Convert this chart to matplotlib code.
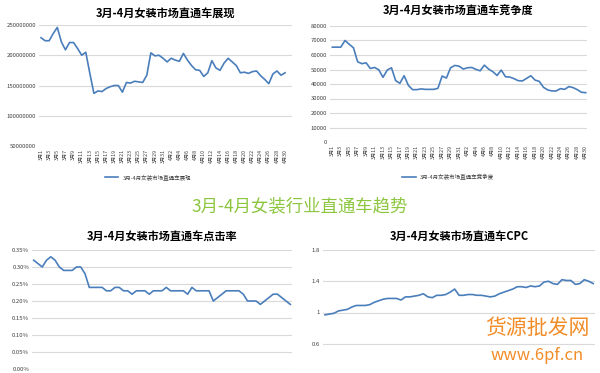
import matplotlib
matplotlib.use('Agg')
import matplotlib.pyplot as plt
from matplotlib.ticker import FuncFormatter

plt.rcParams['font.family'] = ['Noto Sans CJK SC', 'DejaVu Sans']

# category labels: 3月1 .. 4月30
dates = [f'3月{d}' for d in range(1, 32)] + [f'4月{d}' for d in range(1, 31)]

impressions = [229, 224, 224, 236, 246, 222, 209, 221, 221, 211,
               200, 205, 170, 137, 141, 140, 145, 148, 150, 150,
               139, 155, 154, 157, 156, 155, 167, 204, 199, 200,
               195, 189, 195, 192, 190, 203, 192, 183, 176, 175,
               165, 171, 191, 179, 175, 187, 195, 189, 183, 171,
               172, 170, 173, 174, 166, 160, 153, 169, 174, 167, 171]
impressions = [v * 1000000 for v in impressions]

competition = [65400, 65400, 65400, 70000, 67400, 65000, 55300, 54000, 54600, 50700,
               51400, 49800, 44600, 49600, 51200, 42300, 40500, 45700, 39100, 36100,
               36100, 36600, 36300, 36300, 36300, 37000, 45500, 44100, 51200, 52800,
               52300, 50300, 51200, 51400, 50100, 49100, 53000, 50300, 48500, 45900,
               49600, 45000, 44800, 43700, 42300, 42100, 43900, 45700, 42700, 41800,
               37700, 35900, 35200, 35200, 36800, 36300, 38200, 37500, 36100, 34300, 34000]

ctr = [0.32, 0.31, 0.30, 0.32, 0.33, 0.32, 0.30, 0.29, 0.29, 0.29,
       0.30, 0.30, 0.28, 0.24, 0.24, 0.24, 0.24, 0.23, 0.23, 0.24,
       0.24, 0.23, 0.23, 0.22, 0.23, 0.23, 0.23, 0.22, 0.23, 0.23,
       0.23, 0.24, 0.23, 0.23, 0.23, 0.23, 0.22, 0.24, 0.23, 0.23,
       0.23, 0.23, 0.20, 0.21, 0.22, 0.23, 0.23, 0.23, 0.23, 0.22,
       0.20, 0.20, 0.20, 0.19, 0.20, 0.21, 0.22, 0.22, 0.21, 0.20, 0.19]

cpc = [0.97, 0.98, 0.99, 1.02, 1.03, 1.04, 1.07, 1.09, 1.09, 1.09,
       1.10, 1.13, 1.15, 1.17, 1.18, 1.18, 1.18, 1.16, 1.20, 1.20,
       1.21, 1.22, 1.24, 1.20, 1.19, 1.22, 1.22, 1.23, 1.26, 1.30,
       1.22, 1.22, 1.23, 1.23, 1.22, 1.22, 1.21, 1.20, 1.21, 1.24,
       1.26, 1.28, 1.30, 1.33, 1.33, 1.32, 1.34, 1.33, 1.34, 1.39,
       1.40, 1.37, 1.36, 1.42, 1.41, 1.41, 1.36, 1.37, 1.42, 1.40, 1.37]

t1 = '3月-4月女装市场直通车展现'
t2 = '3月-4月女装市场直通车竞争度'
t3 = '3月-4月女装市场直通车点击率'
t4 = '3月-4月女装市场直通车CPC'
main_title = '3月-4月女装行业直通车趋势'

line_color = '#4a7ebb'
grid_color = '#d9d9d9'
tick_color = '#404040'

W, H = 600, 373
fig = plt.figure(figsize=(6, 3.73), dpi=100)


def box(x0, x1, ytop, ybot):
    return [x0 / W, (H - ybot) / H, (x1 - x0) / W, (ybot - ytop) / H]


def style(ax, yticks, ylim, xlim, fmt, xlabels=True):
    ax.set_yticks(yticks)
    ax.set_ylim(*ylim)
    ax.set_xlim(*xlim)
    ax.yaxis.set_major_formatter(FuncFormatter(fmt))
    ax.grid(axis='y', color=grid_color, linewidth=0.8)
    ax.set_axisbelow(True)
    for s in ax.spines.values():
        s.set_visible(False)
    ax.tick_params(axis='y', length=0, labelsize=4.3, labelcolor=tick_color, pad=2)
    if xlabels:
        ax.set_xticks(range(0, len(dates), 2))
        ax.set_xticklabels(dates[::2], rotation=90)
        ax.tick_params(axis='x', length=0, labelsize=3.8, labelcolor=tick_color, pad=2)
    else:
        # the lower charts are cut off by the picture edge below their x axis
        ax.set_xticks([])


x = list(range(len(dates)))

# chart 1
ax1 = fig.add_axes(box(39, 292, 25, 146))
ax1.plot(x, impressions, color=line_color, lw=1.2, label=t1)
style(ax1, [50000000, 100000000, 150000000, 200000000, 250000000], (50000000, 250000000),
      (-0.5, 61.7), lambda v, p: f'{int(v)}')
ax1.set_title(t1, fontsize=8, fontweight='bold', pad=6)
ax1.legend(loc='center', bbox_to_anchor=(148 / W, (H - 177) / H), bbox_transform=fig.transFigure,
           frameon=False, fontsize=4, handlelength=2.5, labelcolor=tick_color)

# chart 2
ax2 = fig.add_axes(box(330, 587, 26, 142))
ax2.plot(x, competition, color=line_color, lw=1.2, label=t2)
style(ax2, list(range(0, 80001, 10000)), (0, 80000), (-0.55, 60.3), lambda v, p: f'{int(v)}')
ax2.set_title(t2, fontsize=8, fontweight='bold', pad=8)
ax2.legend(loc='center', bbox_to_anchor=(448 / W, (H - 177) / H), bbox_transform=fig.transFigure,
           frameon=False, fontsize=4, handlelength=2.5, labelcolor=tick_color)

# chart 3
ax3 = fig.add_axes(box(32, 292, 250, 369))
ax3.plot(x, ctr, color=line_color, lw=1.2)
style(ax3, [0, 0.05, 0.10, 0.15, 0.20, 0.25, 0.30, 0.35], (0, 0.35), (-0.4, 60.4),
      lambda v, p: f'{v:.2f}%', xlabels=False)
ax3.set_title(t3, fontsize=8, fontweight='bold', pad=7)

# chart 4
ax4 = fig.add_axes(box(323, 595, 250, 375))
ax4.plot(x, cpc, color=line_color, lw=1.2)
style(ax4, [0.6, 1.0, 1.4, 1.8], (0.2, 1.8), (-0.45, 60.4), lambda v, p: f'{v:g}',
      xlabels=False)
ax4.set_title(t4, fontsize=8, fontweight='bold', pad=7)

fig.text(0.5, (H - 206) / H, main_title, ha='center', va='center',
         fontsize=12.5, color='#8cc63f')

# watermark
fig.text(537 / W, (H - 328) / H, '货源批发网', ha='center', va='center',
         fontsize=15, color='#f28c28')
fig.text(537 / W, (H - 355) / H, 'www.6pf.cn', ha='center', va='center',
         fontsize=12, color='#f28c28')

fig.savefig('out.png', dpi=100)
